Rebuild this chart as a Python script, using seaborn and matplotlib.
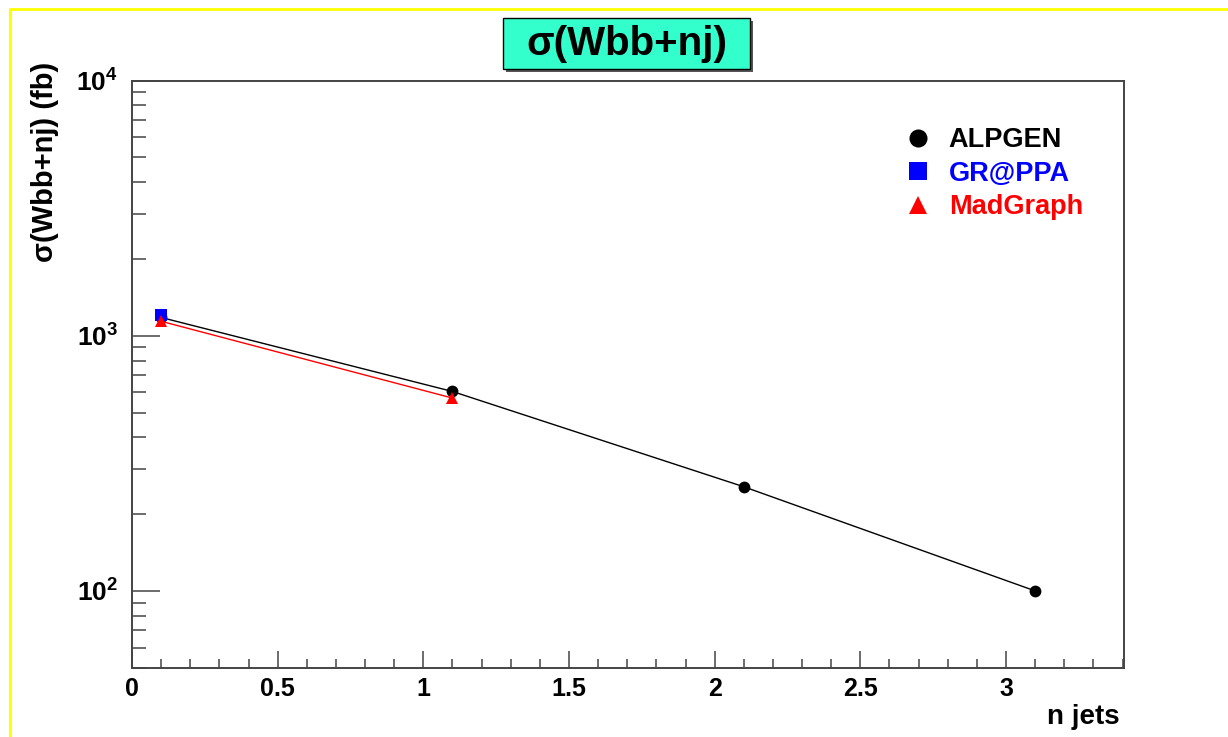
import math

import matplotlib
matplotlib.use("Agg")
import matplotlib.pyplot as plt
import matplotlib.ticker as mticker
from matplotlib.lines import Line2D
from matplotlib.patches import Rectangle
import seaborn as sns

# values
njets_alpgen = [0.1, 1.1, 2.1, 3.1]
sigma_alpgen = [1180, 605, 256, 100]
njets_grappa = [0.1]
sigma_grappa = [1205]
njets_madgraph = [0.1, 1.1]
sigma_madgraph = [1140, 570]

labels = ["ALPGEN", "GR@PPA", "MadGraph"]
colors = ["black", "#0000ff", "#ff0000"]
markers = ["o", "s", "^"]

sns.set_style("white")
plt.rcParams["font.family"] = ["Liberation Sans", "DejaVu Sans"]
plt.rcParams["font.weight"] = "bold"
plt.rcParams["text.color"] = "black"
plt.rcParams["mathtext.fontset"] = "custom"
plt.rcParams["mathtext.rm"] = "Liberation Sans:bold"
plt.rcParams["mathtext.bf"] = "Liberation Sans:bold"

W, H = 1228, 737
fig = plt.figure(figsize=(W / 100, H / 100), dpi=100)
ax = fig.add_axes([132 / W, 1 - 667.7 / H, (1124 - 132) / W, (667.7 - 80.7) / H])

sns.lineplot(x=njets_alpgen, y=sigma_alpgen, color=colors[0], marker=markers[0],
             markersize=8.5, markeredgewidth=0, linewidth=1, ax=ax)
sns.lineplot(x=njets_grappa, y=sigma_grappa, color=colors[1], marker=markers[1],
             markersize=8.5, markeredgewidth=0, linewidth=1, ax=ax)
sns.lineplot(x=njets_madgraph, y=sigma_madgraph, color=colors[2], marker=markers[2],
             markersize=8.5, markeredgewidth=0, linewidth=1, ax=ax)

ax.set_yscale("log")
ax.set_xlim(0, 3.405)
ax.set_ylim(50, 1e4)

ax.xaxis.set_major_locator(mticker.MultipleLocator(0.5))
ax.xaxis.set_minor_locator(mticker.MultipleLocator(0.1))
ax.xaxis.set_major_formatter(mticker.FuncFormatter(lambda v, p: "%g" % v))
ax.yaxis.set_major_locator(mticker.LogLocator(base=10))
ax.yaxis.set_minor_locator(mticker.LogLocator(base=10, subs=range(2, 10)))
ax.yaxis.set_major_formatter(mticker.FuncFormatter(
    lambda v, p: r"$\mathbf{10^{%d}}$" % round(math.log10(v))))
ax.yaxis.set_minor_formatter(mticker.NullFormatter())

ax.tick_params(axis="x", which="both", direction="in", bottom=True, top=False,
               color="#444444", labelcolor="black", width=1.1, labelsize=18, pad=7)
ax.tick_params(axis="x", which="major", length=12)
ax.tick_params(axis="x", which="minor", length=6.5)
ax.tick_params(axis="y", which="both", direction="in", left=True, right=False,
               color="#444444", labelcolor="black", width=1.1, labelsize=19, pad=10)
ax.tick_params(axis="y", which="major", length=20)
ax.tick_params(axis="y", which="minor", length=10)
for lab in ax.get_xticklabels() + ax.get_yticklabels():
    lab.set_fontweight("bold")

for s in ax.spines.values():
    s.set_color("#444444")
    s.set_linewidth(1.4)

ax.set_xlabel("")
ax.set_ylabel("")

handles = [Line2D([], [], color=c, marker=m, linestyle="none", markersize=13,
                  markeredgewidth=0) for c, m in zip(colors, markers)]
ax.legend(handles, labels, loc="upper left", bbox_to_anchor=(900 / W, 1 - 127 / H),
          bbox_transform=fig.transFigure, frameon=False, labelcolor=colors,
          prop={"size": 19.5, "weight": "bold"}, handlelength=1.35, handletextpad=0.45,
          labelspacing=0.28, borderpad=0, borderaxespad=0)

# axis titles, ROOT style
fig.text(45 / W, 1 - 62 / H, "σ(Wbb+nj) (fb)", rotation=90, rotation_mode="anchor",
         ha="right", va="center", fontsize=21, fontweight="bold", color="black")
fig.text(1120 / W, 1 - 717 / H, "n jets", ha="right", va="center",
         fontsize=20, fontweight="bold", color="black")

# title box with shadow
fig.add_artist(Rectangle((506 / W, 1 - 72 / H), 247 / W, 51 / H, transform=fig.transFigure,
                         facecolor="#555555", edgecolor="none"))
fig.add_artist(Rectangle((503 / W, 1 - 69 / H), 247 / W, 51 / H, transform=fig.transFigure,
                         facecolor="#33ffcc", edgecolor="black", linewidth=1))
fig.text(627 / W, 1 - 44 / H, "σ(Wbb+nj)", ha="center", va="center",
         fontsize=29, fontweight="bold", color="black")

# yellow canvas border
fig.add_artist(Line2D([9.5 / W, 1], [1 - 8.5 / H, 1 - 8.5 / H], transform=fig.transFigure,
                      color="#ffff00", linewidth=2))
fig.add_artist(Line2D([9.5 / W, 9.5 / W], [0, 1 - 8.5 / H], transform=fig.transFigure,
                      color="#ffff00", linewidth=2.2))

fig.savefig("out.png", dpi=100)
